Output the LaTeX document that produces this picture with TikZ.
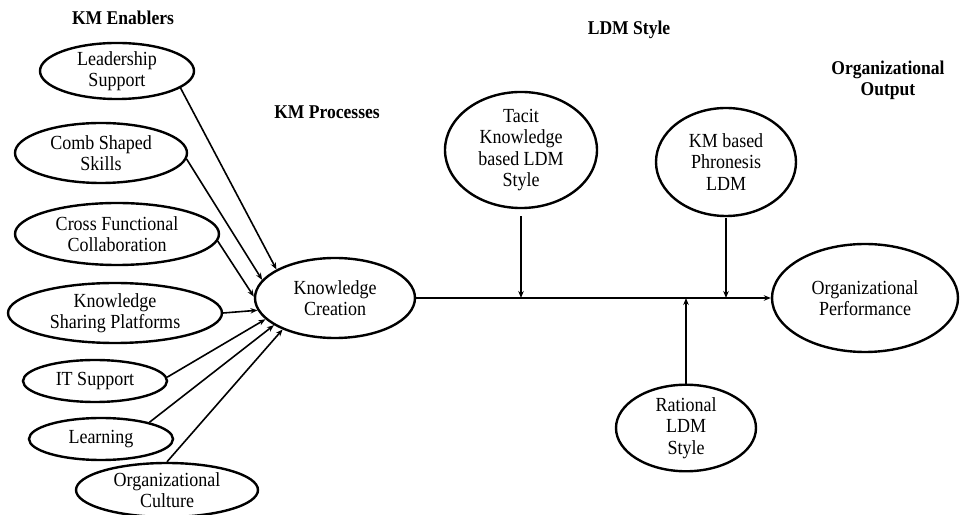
\documentclass[tikz,border=0pt]{standalone}
\usepackage{fontspec}
\setmainfont{Liberation Serif}[FakeStretch=0.9]
\usetikzlibrary{shapes.geometric,arrows.meta}
\begin{document}
\begin{tikzpicture}[x=1pt,y=1pt,
  ell/.style={draw=black,line width=2.4pt,ellipse,inner sep=0pt,align=center,
    font=\fontsize{20}{21.5}\selectfont},
  head/.style={align=center,font=\fontsize{19.5}{21}\selectfont\bfseries},
  arr/.style={line width=1.6pt,-{Stealth[length=7pt,width=5.5pt]}},
  ln/.style={line width=1.6pt}]
\useasboundingbox (0,0) rectangle (961,514);
% headings
\node[head] (h1) at (123,496) {KM Enablers};
\node[head] (h2) at (327,402) {KM Processes};
\node[head] (h3) at (629,484) {LDM Style};
\node[head] (h4) at (888,434) {Organizational\\Output};
% enablers
\node[ell,minimum width=154pt,minimum height=56pt] (ls) at (117,443) {Leadership\\Support};
\node[ell,minimum width=172pt,minimum height=60pt] (cs) at (101,361) {Comb Shaped\\Skills};
\node[ell,minimum width=204pt,minimum height=62pt] (cf) at (117,280) {Cross Functional\\Collaboration};
\node[ell,minimum width=214pt,minimum height=60pt] (ks) at (115,201) {Knowledge\\Sharing Platforms};
\node[ell,minimum width=144pt,minimum height=42pt] (it) at (95,133) {IT Support};
\node[ell,minimum width=144pt,minimum height=42pt] (le) at (101,75) {Learning};
\node[ell,minimum width=182pt,minimum height=54pt] (oc) at (167,24) {Organizational\\Culture};
% process
\node[ell,minimum width=160pt,minimum height=80pt] (kc) at (335,216) {Knowledge\\Creation};
% output
\node[ell,minimum width=186pt,minimum height=108pt] (op) at (865,216) {Organizational\\Performance};
% LDM styles
\node[ell,minimum width=152pt,minimum height=100pt] (tk) at (521,364) {Tacit\\Knowledge\\based LDM\\Style};
\node[ell,minimum width=140pt,minimum height=108pt] (ph) at (726,352) {KM based\\Phronesis\\LDM};
\node[ell,minimum width=140pt,minimum height=76pt] (ra) at (686,86) {Rational\\LDM\\Style};
% enabler arrows
\draw[arr] (ls.-15) -- (kc.154);
\draw[arr] (cs.-4) -- (kc.166);
\draw[arr] (cf.-4) -- (kc.179);
\draw[arr] (ks.east) -- (kc.189);
\draw[arr] (it.3) -- (kc.197);
\draw[arr] (le.19) -- (kc.204);
\draw[arr] (oc.north) -- (kc.211);
% main line
\draw[arr] (kc.east) -- (op.west);
\coordinate (j1) at (tk.south |- kc.east);
\coordinate (j2) at (ph.south |- kc.east);
\coordinate (j3) at (ra.north |- kc.east);
\draw[arr] ([yshift=-7pt]tk.south) -- (j1);
\draw[arr] ([yshift=-1pt]ph.south) -- (j2);
\draw[arr] (ra.north) -- (j3);
\end{tikzpicture}
\end{document}
